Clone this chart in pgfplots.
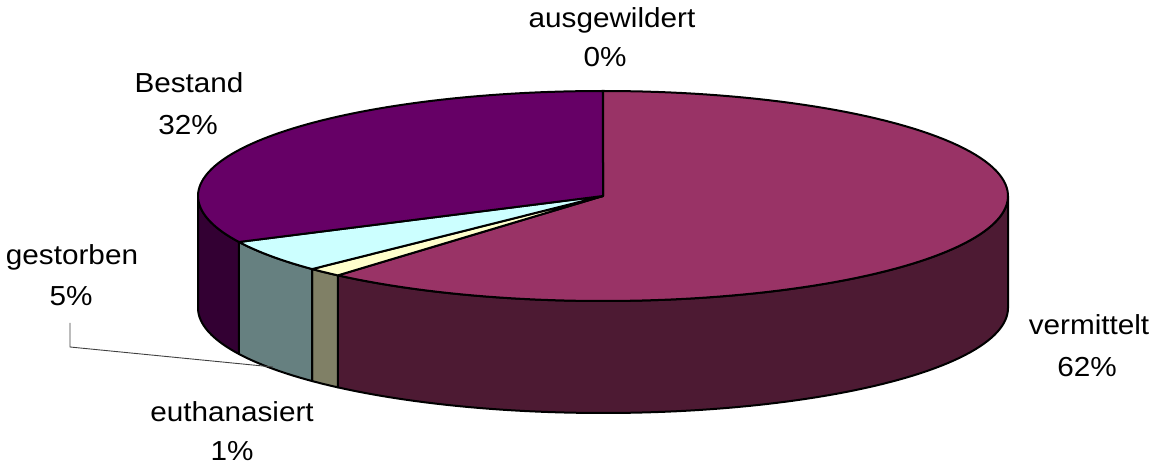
\documentclass[border=0pt]{standalone}
\usepackage{fontspec}
\setmainfont{Liberation Sans}
\usepackage{graphicx}
\usepackage{pgfplots}
\pgfplotsset{compat=1.18}
\usepgfplotslibrary{fillbetween}
\definecolor{vtop}{HTML}{993366}
\definecolor{vside}{HTML}{4D1A33}
\definecolor{etop}{HTML}{FFFFCC}
\definecolor{eside}{HTML}{808066}
\definecolor{gtop}{HTML}{CCFFFF}
\definecolor{gside}{HTML}{668080}
\definecolor{btop}{HTML}{660066}
\definecolor{bside}{HTML}{330033}
\newcommand{\lab}[1]{\scalebox{1.08}[1]{\fontsize{27.5}{33}\selectfont #1}}
% slice values in percent (clockwise from 12 o'clock)
\def\vAusgewildert{0}
\def\vVermittelt{61.36}
\def\vEuthanasiert{1.39}
\def\vGestorben{5.03}
\def\vBestand{32.22}
% pie geometry (axis units = px)
\def\cx{603}\def\cy{277}\def\rx{405}\def\ry{105}\def\dep{112}
\begin{document}
\begin{tikzpicture}
\pgfmathsetmacro\aZ{3.6*\vAusgewildert}
\pgfmathsetmacro\aA{\aZ+3.6*\vVermittelt}
\pgfmathsetmacro\aB{\aA+3.6*\vEuthanasiert}
\pgfmathsetmacro\aC{\aB+3.6*\vGestorben}
\pgfmathsetmacro\aD{\aC+3.6*\vBestand}
\begin{axis}[hide axis, x=1pt, y=1pt, xmin=0, xmax=1155, ymin=0, ymax=473,
  scale only axis, clip=false, anchor=origin, at={(0,0)}]
\path (axis cs:0,0) rectangle (axis cs:1155,473);
% ---- sides (front half only)
\addplot[name path=t1, draw=none, domain=90:\aA, samples=80, variable=\t] ({\cx+\rx*sin(\t)},{\cy+\ry*cos(\t)});
\addplot[name path=b1, draw=none, domain=90:\aA, samples=80, variable=\t] ({\cx+\rx*sin(\t)},{\cy-\dep+\ry*cos(\t)});
\addplot[fill=vside, draw=black, line width=2pt, line join=round] fill between[of=t1 and b1];
\addplot[name path=t2, draw=none, domain=\aA:\aB, samples=10, variable=\t] ({\cx+\rx*sin(\t)},{\cy+\ry*cos(\t)});
\addplot[name path=b2, draw=none, domain=\aA:\aB, samples=10, variable=\t] ({\cx+\rx*sin(\t)},{\cy-\dep+\ry*cos(\t)});
\addplot[fill=eside, draw=black, line width=2pt, line join=round] fill between[of=t2 and b2];
\addplot[name path=t3, draw=none, domain=\aB:\aC, samples=20, variable=\t] ({\cx+\rx*sin(\t)},{\cy+\ry*cos(\t)});
\addplot[name path=b3, draw=none, domain=\aB:\aC, samples=20, variable=\t] ({\cx+\rx*sin(\t)},{\cy-\dep+\ry*cos(\t)});
\addplot[fill=gside, draw=black, line width=2pt, line join=round] fill between[of=t3 and b3];
\addplot[name path=t4, draw=none, domain=\aC:270, samples=20, variable=\t] ({\cx+\rx*sin(\t)},{\cy+\ry*cos(\t)});
\addplot[name path=b4, draw=none, domain=\aC:270, samples=20, variable=\t] ({\cx+\rx*sin(\t)},{\cy-\dep+\ry*cos(\t)});
\addplot[fill=bside, draw=black, line width=2pt, line join=round] fill between[of=t4 and b4];
% ---- top sectors
\addplot[fill=vtop, draw=black, line width=2pt, line join=round, domain=\aZ:\aA, samples=120, variable=\t] ({\cx+\rx*sin(\t)},{\cy+\ry*cos(\t)}) -- (axis cs:\cx,\cy) -- cycle;
\addplot[fill=etop, draw=black, line width=2pt, line join=round, domain=\aA:\aB, samples=10, variable=\t] ({\cx+\rx*sin(\t)},{\cy+\ry*cos(\t)}) -- (axis cs:\cx,\cy) -- cycle;
\addplot[fill=gtop, draw=black, line width=2pt, line join=round, domain=\aB:\aC, samples=20, variable=\t] ({\cx+\rx*sin(\t)},{\cy+\ry*cos(\t)}) -- (axis cs:\cx,\cy) -- cycle;
\addplot[fill=btop, draw=black, line width=2pt, line join=round, domain=\aC:\aD, samples=80, variable=\t] ({\cx+\rx*sin(\t)},{\cy+\ry*cos(\t)}) -- (axis cs:\cx,\cy) -- cycle;
% ---- leader line for gestorben
\addplot[draw=black!75, line width=0.9pt] coordinates {(70,150) (70,126) (273,106)};
% ---- labels
\node[anchor=base] at (axis cs:612,445) {\lab{ausgewildert}};
\node[anchor=base] at (axis cs:605,406) {\lab{0\%}};
\node[anchor=base] at (axis cs:189,380) {\lab{Bestand}};
\node[anchor=base] at (axis cs:188,338) {\lab{32\%}};
\node[anchor=base] at (axis cs:72,208) {\lab{gestorben}};
\node[anchor=base] at (axis cs:71,167) {\lab{5\%}};
\node[anchor=base] at (axis cs:1089,138) {\lab{vermittelt}};
\node[anchor=base] at (axis cs:1087,96) {\lab{62\%}};
\node[anchor=base] at (axis cs:232,51) {\lab{euthanasiert}};
\node[anchor=base] at (axis cs:232,12) {\lab{1\%}};
\end{axis}
\end{tikzpicture}
\end{document}
